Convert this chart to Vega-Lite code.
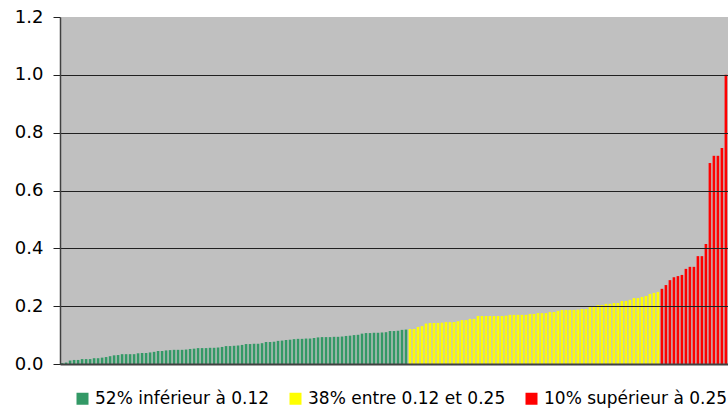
{
"$schema": "https://vega.github.io/schema/vega-lite/v6.json",
"width": 668, "height": 347,
"autosize": {"type": "none"},
"padding": {"left": 60, "top": 17, "right": 0, "bottom": 48},
"background": "white",
"config": {"view": {"fill": "#C0C0C0", "stroke": null}, "font": "DejaVu Sans"},
"data": {"values": [
{"i":0,"v":0.003,"g":"A"},{"i":1,"v":0.005,"g":"A"},{"i":2,"v":0.012,"g":"A"},{"i":3,"v":0.014,"g":"A"},{"i":4,"v":0.014,"g":"A"},{"i":5,"v":0.017,"g":"A"},{"i":6,"v":0.017,"g":"A"},{"i":7,"v":0.017,"g":"A"},{"i":8,"v":0.02,"g":"A"},{"i":9,"v":0.02,"g":"A"},
{"i":10,"v":0.022,"g":"A"},{"i":11,"v":0.024,"g":"A"},{"i":12,"v":0.027,"g":"A"},{"i":13,"v":0.03,"g":"A"},{"i":14,"v":0.031,"g":"A"},{"i":15,"v":0.034,"g":"A"},{"i":16,"v":0.034,"g":"A"},{"i":17,"v":0.034,"g":"A"},{"i":18,"v":0.034,"g":"A"},{"i":19,"v":0.037,"g":"A"},
{"i":20,"v":0.038,"g":"A"},{"i":21,"v":0.038,"g":"A"},{"i":22,"v":0.04,"g":"A"},{"i":23,"v":0.042,"g":"A"},{"i":24,"v":0.045,"g":"A"},{"i":25,"v":0.045,"g":"A"},{"i":26,"v":0.047,"g":"A"},{"i":27,"v":0.048,"g":"A"},{"i":28,"v":0.049,"g":"A"},{"i":29,"v":0.049,"g":"A"},
{"i":30,"v":0.049,"g":"A"},{"i":31,"v":0.05,"g":"A"},{"i":32,"v":0.052,"g":"A"},{"i":33,"v":0.053,"g":"A"},{"i":34,"v":0.055,"g":"A"},{"i":35,"v":0.055,"g":"A"},{"i":36,"v":0.055,"g":"A"},{"i":37,"v":0.056,"g":"A"},{"i":38,"v":0.056,"g":"A"},{"i":39,"v":0.057,"g":"A"},
{"i":40,"v":0.059,"g":"A"},{"i":41,"v":0.062,"g":"A"},{"i":42,"v":0.062,"g":"A"},{"i":43,"v":0.063,"g":"A"},{"i":44,"v":0.064,"g":"A"},{"i":45,"v":0.066,"g":"A"},{"i":46,"v":0.069,"g":"A"},{"i":47,"v":0.069,"g":"A"},{"i":48,"v":0.07,"g":"A"},{"i":49,"v":0.07,"g":"A"},
{"i":50,"v":0.072,"g":"A"},{"i":51,"v":0.076,"g":"A"},{"i":52,"v":0.076,"g":"A"},{"i":53,"v":0.077,"g":"A"},{"i":54,"v":0.08,"g":"A"},{"i":55,"v":0.081,"g":"A"},{"i":56,"v":0.083,"g":"A"},{"i":57,"v":0.084,"g":"A"},{"i":58,"v":0.086,"g":"A"},{"i":59,"v":0.087,"g":"A"},
{"i":60,"v":0.087,"g":"A"},{"i":61,"v":0.088,"g":"A"},{"i":62,"v":0.088,"g":"A"},{"i":63,"v":0.09,"g":"A"},{"i":64,"v":0.092,"g":"A"},{"i":65,"v":0.093,"g":"A"},{"i":66,"v":0.093,"g":"A"},{"i":67,"v":0.093,"g":"A"},{"i":68,"v":0.094,"g":"A"},{"i":69,"v":0.094,"g":"A"},
{"i":70,"v":0.095,"g":"A"},{"i":71,"v":0.097,"g":"A"},{"i":72,"v":0.098,"g":"A"},{"i":73,"v":0.1,"g":"A"},{"i":74,"v":0.101,"g":"A"},{"i":75,"v":0.105,"g":"A"},{"i":76,"v":0.107,"g":"A"},{"i":77,"v":0.107,"g":"A"},{"i":78,"v":0.108,"g":"A"},{"i":79,"v":0.108,"g":"A"},
{"i":80,"v":0.109,"g":"A"},{"i":81,"v":0.11,"g":"A"},{"i":82,"v":0.114,"g":"A"},{"i":83,"v":0.114,"g":"A"},{"i":84,"v":0.115,"g":"A"},{"i":85,"v":0.118,"g":"A"},{"i":86,"v":0.119,"g":"A"},
{"i":87,"v":0.121,"g":"B"},{"i":88,"v":0.121,"g":"B"},{"i":89,"v":0.128,"g":"B"},{"i":90,"v":0.131,"g":"B"},{"i":91,"v":0.14,"g":"B"},{"i":92,"v":0.142,"g":"B"},{"i":93,"v":0.142,"g":"B"},{"i":94,"v":0.142,"g":"B"},{"i":95,"v":0.143,"g":"B"},{"i":96,"v":0.145,"g":"B"},
{"i":97,"v":0.145,"g":"B"},{"i":98,"v":0.145,"g":"B"},{"i":99,"v":0.148,"g":"B"},{"i":100,"v":0.152,"g":"B"},{"i":101,"v":0.152,"g":"B"},{"i":102,"v":0.156,"g":"B"},{"i":103,"v":0.156,"g":"B"},{"i":104,"v":0.166,"g":"B"},{"i":105,"v":0.166,"g":"B"},{"i":106,"v":0.166,"g":"B"},
{"i":107,"v":0.166,"g":"B"},{"i":108,"v":0.166,"g":"B"},{"i":109,"v":0.166,"g":"B"},{"i":110,"v":0.166,"g":"B"},{"i":111,"v":0.167,"g":"B"},{"i":112,"v":0.17,"g":"B"},{"i":113,"v":0.17,"g":"B"},{"i":114,"v":0.17,"g":"B"},{"i":115,"v":0.17,"g":"B"},{"i":116,"v":0.17,"g":"B"},
{"i":117,"v":0.173,"g":"B"},{"i":118,"v":0.173,"g":"B"},{"i":119,"v":0.176,"g":"B"},{"i":120,"v":0.176,"g":"B"},{"i":121,"v":0.176,"g":"B"},{"i":122,"v":0.18,"g":"B"},{"i":123,"v":0.18,"g":"B"},{"i":124,"v":0.184,"g":"B"},{"i":125,"v":0.187,"g":"B"},{"i":126,"v":0.187,"g":"B"},
{"i":127,"v":0.187,"g":"B"},{"i":128,"v":0.187,"g":"B"},{"i":129,"v":0.188,"g":"B"},{"i":130,"v":0.19,"g":"B"},{"i":131,"v":0.19,"g":"B"},{"i":132,"v":0.2,"g":"B"},{"i":133,"v":0.2,"g":"B"},{"i":134,"v":0.204,"g":"B"},{"i":135,"v":0.204,"g":"B"},{"i":136,"v":0.208,"g":"B"},
{"i":137,"v":0.208,"g":"B"},{"i":138,"v":0.211,"g":"B"},{"i":139,"v":0.211,"g":"B"},{"i":140,"v":0.218,"g":"B"},{"i":141,"v":0.218,"g":"B"},{"i":142,"v":0.222,"g":"B"},{"i":143,"v":0.228,"g":"B"},{"i":144,"v":0.228,"g":"B"},{"i":145,"v":0.232,"g":"B"},{"i":146,"v":0.235,"g":"B"},
{"i":147,"v":0.242,"g":"B"},{"i":148,"v":0.246,"g":"B"},{"i":149,"v":0.249,"g":"B"},
{"i":150,"v":0.26,"g":"C"},{"i":151,"v":0.273,"g":"C"},{"i":152,"v":0.29,"g":"C"},{"i":153,"v":0.3,"g":"C"},{"i":154,"v":0.304,"g":"C"},{"i":155,"v":0.308,"g":"C"},{"i":156,"v":0.329,"g":"C"},{"i":157,"v":0.336,"g":"C"},{"i":158,"v":0.336,"g":"C"},{"i":159,"v":0.373,"g":"C"},
{"i":160,"v":0.373,"g":"C"},{"i":161,"v":0.415,"g":"C"},{"i":162,"v":0.695,"g":"C"},{"i":163,"v":0.72,"g":"C"},{"i":164,"v":0.72,"g":"C"},{"i":165,"v":0.747,"g":"C"},{"i":166,"v":1.0,"g":"C"}
]},
"mark": {"type": "bar"},
"encoding": {
"x": {"field": "i", "type": "ordinal", "scale": {"paddingInner": 0.35, "paddingOuter": 0.2},
"axis": {"labels": false, "ticks": false, "title": null, "domainColor": "#404040", "domainWidth": 2, "zindex": 1}},
"y": {"field": "v", "type": "quantitative", "scale": {"domain": [0, 1.2], "nice": false},
"axis": {"values": [0, 0.2, 0.4, 0.6, 0.8, 1.0, 1.2], "format": ".1f", "title": null, "labelFont": "DejaVu Sans", "labelFontSize": 18, "labelColor": "black", "tickSize": 7, "tickColor": "#202020", "labelPadding": 10, "domainColor": "#404040", "domainWidth": 1.5, "zindex": 1,
"gridColor": {"condition": {"test": "datum.value >= 1.1", "value": "rgba(0,0,0,0)"}, "value": "#202020"}, "gridWidth": 1}},
"color": {"field": "g", "type": "nominal",
"scale": {"domain": ["A", "B", "C"], "range": ["#339966", "#FFFF00", "#FF0000"]},
"legend": {"title": null, "orient": "none", "direction": "horizontal", "legendX": 14, "legendY": 373, "symbolType": "square", "symbolSize": 144, "symbolStrokeWidth": 0, "symbolOpacity": 1, "labelFontSize": 17, "labelFont": "DejaVu Sans", "labelColor": "black", "labelOffset": 4, "columnPadding": 17, "padding": 0, "labelLimit": 400,
"labelExpr": "datum.label == 'A' ? '52% inférieur à 0.12' : datum.label == 'B' ? '38% entre 0.12 et 0.25' : '10% supérieur à 0.25'"}}
}
}
